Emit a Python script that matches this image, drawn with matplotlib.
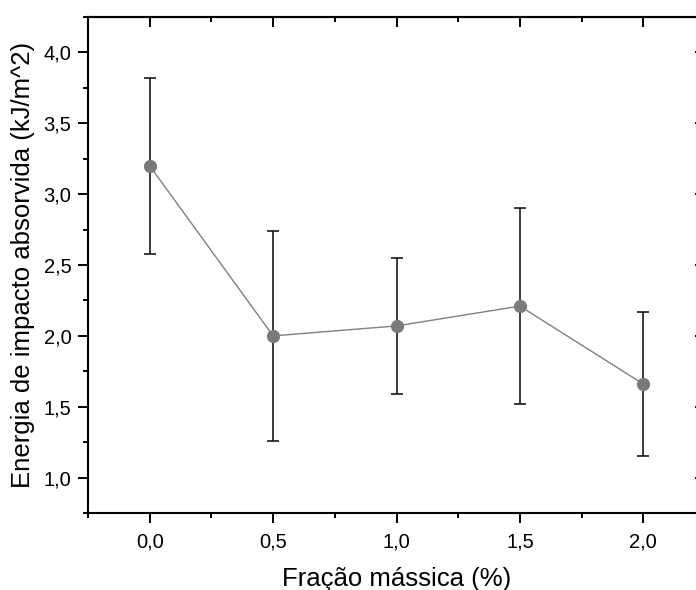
import matplotlib
matplotlib.use("Agg")
import matplotlib.pyplot as plt
from matplotlib.ticker import MultipleLocator, FuncFormatter

plt.rcParams['font.family'] = ['Liberation Sans', 'DejaVu Sans']

fracao = [0.0, 0.5, 1.0, 1.5, 2.0]
energia = [3.20, 2.00, 2.07, 2.21, 1.66]
erro = [0.62, 0.74, 0.48, 0.69, 0.51]

W, H = 696, 590
fig = plt.figure(figsize=(W / 100, H / 100), dpi=100)
ax = fig.add_axes([88 / W, (H - 513) / H, (705 - 88) / W, (513 - 17) / H])

ax.plot(fracao, energia, color='#808080', lw=1.0, zorder=2)
ax.errorbar(fracao, energia, yerr=erro, fmt='none', ecolor='#1a1a1a',
            elinewidth=1.2, capsize=4, capthick=1.2, zorder=3)
ax.plot(fracao, energia, 'o', color='#7a7a7a', ms=8.5, mec='#7a7a7a', zorder=4)

ax.set_xlim(-0.25, 2.25)
ax.set_ylim(0.75, 4.25)
ax.xaxis.set_major_locator(MultipleLocator(0.5))
ax.xaxis.set_minor_locator(MultipleLocator(0.25))
ax.yaxis.set_major_locator(MultipleLocator(0.5))
ax.yaxis.set_minor_locator(MultipleLocator(0.25))

fmt = FuncFormatter(lambda v, p: f"{v:.1f}".replace('.', ','))
ax.xaxis.set_major_formatter(fmt)
ax.yaxis.set_major_formatter(fmt)

# ticks on bottom/left pointing out, top/right pointing in
ax.tick_params(axis='both', which='major', direction='out', length=7, width=1.4,
               labelsize=14.5, colors='black', pad=5)
ax.tick_params(axis='both', which='minor', direction='out', length=3.8, width=1.4)
ax.tick_params(axis='x', which='major', pad=7)

for sp in ax.spines.values():
    sp.set_linewidth(1.5)

# mirrored inward ticks on top and right
axt = ax.secondary_xaxis('top')
axt.xaxis.set_major_locator(MultipleLocator(0.5))
axt.xaxis.set_minor_locator(MultipleLocator(0.25))
axt.tick_params(which='major', direction='in', length=7, width=1.4, labeltop=False)
axt.tick_params(which='minor', direction='in', length=3.8, width=1.4)
axt.spines['top'].set_linewidth(1.5)
axr = ax.secondary_yaxis('right')
axr.yaxis.set_major_locator(MultipleLocator(0.5))
axr.yaxis.set_minor_locator(MultipleLocator(0.25))
axr.tick_params(which='major', direction='in', length=7, width=1.4, labelright=False)
axr.tick_params(which='minor', direction='in', length=3.8, width=1.4)
axr.spines['right'].set_linewidth(1.5)

ax.set_xlabel('Fração mássica (%)', fontsize=18.5, labelpad=11)
ax.set_ylabel('Energia de impacto absorvida (kJ/m^2)', fontsize=18.5, labelpad=6)

fig.savefig('out.png', dpi=100)
